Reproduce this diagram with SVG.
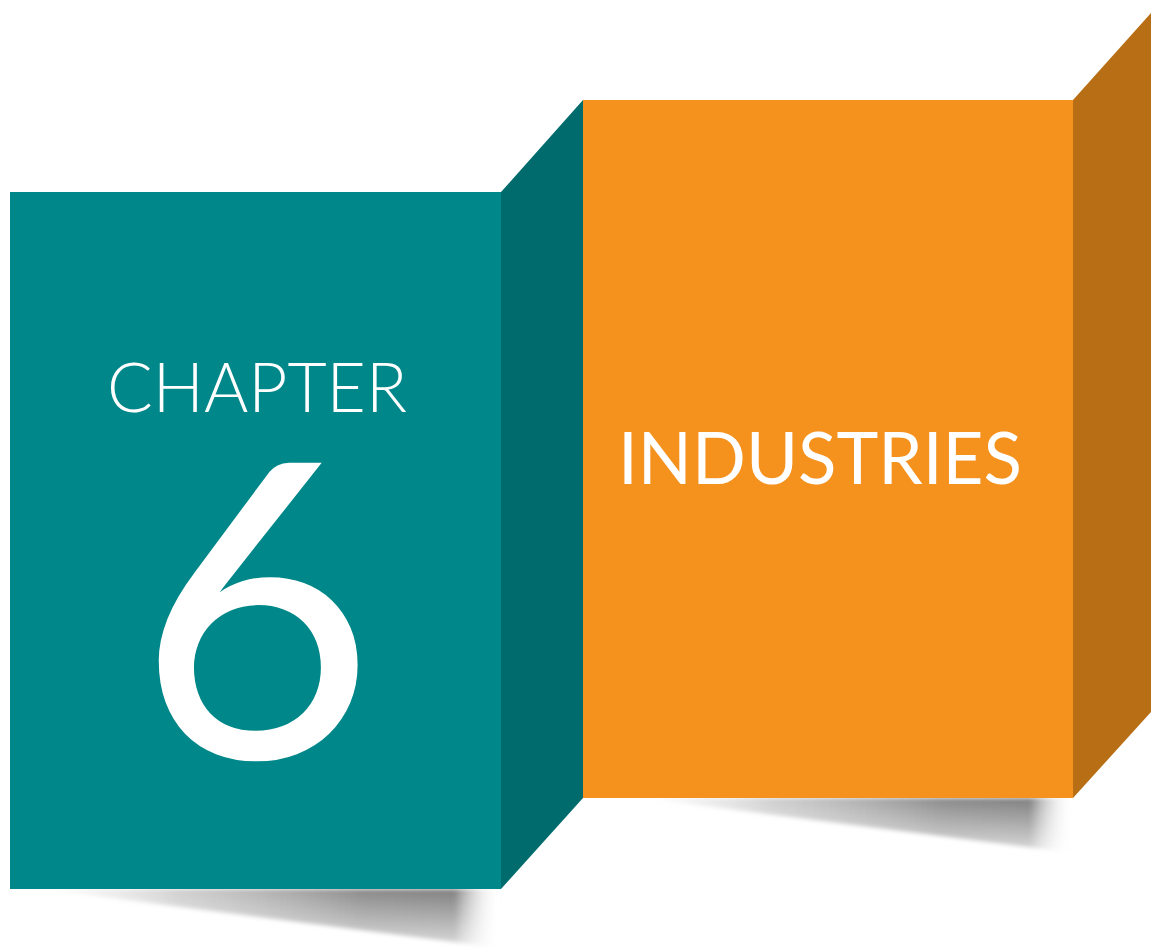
<svg xmlns="http://www.w3.org/2000/svg" width="1151" height="950" viewBox="0 0 1151 950">
  <style>
    .txt { fill: #ffffff; font-family: Lato, "Liberation Sans", sans-serif; }
    .teal-front { fill: #008789; }
    .teal-side { fill: #006B6C; }
    .orange-front { fill: #F5921E; }
    .orange-side { fill: #B76E14; }
  </style>
  <defs>
    <linearGradient id="shadowH" x1="0" y1="0" x2="1" y2="0">
      <stop offset="0" stop-color="#dddddd" stop-opacity="0"/>
      <stop offset="0.3" stop-color="#bbbbbb" stop-opacity="0.7"/>
      <stop offset="0.7" stop-color="#8a8a8a" stop-opacity="1"/>
      <stop offset="0.9" stop-color="#808080" stop-opacity="1"/>
      <stop offset="1" stop-color="#ffffff" stop-opacity="0"/>
    </linearGradient>
    <linearGradient id="fadeV" x1="0" y1="0" x2="0" y2="1">
      <stop offset="0" stop-color="#ffffff" stop-opacity="1"/>
      <stop offset="1" stop-color="#ffffff" stop-opacity="0.25"/>
    </linearGradient>
    <mask id="maskTeal" maskUnits="userSpaceOnUse" x="0" y="880" width="520" height="70">
      <rect x="0" y="889" width="520" height="60" fill="url(#fadeV)"/>
    </mask>
    <mask id="maskOrange" maskUnits="userSpaceOnUse" x="600" y="790" width="500" height="70">
      <rect x="600" y="798" width="500" height="56" fill="url(#fadeV)"/>
    </mask>
    <filter id="soft" x="-5%" y="-20%" width="110%" height="140%">
      <feGaussianBlur stdDeviation="2"/>
    </filter>
  </defs>

  <g id="shadow-teal" mask="url(#maskTeal)">
    <polygon points="40,889 500,889 500,948" fill="url(#shadowH)" filter="url(#soft)"/>
  </g>
  <g id="shadow-orange" mask="url(#maskOrange)">
    <polygon points="640,798 1073,798 1073,853" fill="url(#shadowH)" filter="url(#soft)"/>
  </g>

  <g id="panel-chapter">
    <rect class="teal-front" x="10" y="192" width="491" height="697"/>
    <polygon class="teal-side" points="501,192 583,100 583,798 501,889"/>
    <text class="txt" x="257" y="412" font-size="69" font-weight="300" text-anchor="middle" textLength="300" lengthAdjust="spacingAndGlyphs">CHAPTER</text>
    <text class="txt" x="256" y="758" font-size="412" font-weight="400" text-anchor="middle">6</text>
  </g>

  <g id="panel-industries">
    <rect class="orange-front" x="583" y="100" width="490" height="698"/>
    <polygon class="orange-side" points="1073,100 1151,13 1151,712 1073,798"/>
    <text class="txt" x="820" y="484" font-size="71" font-weight="400" text-anchor="middle" textLength="404" lengthAdjust="spacingAndGlyphs">INDUSTRIES</text>
  </g>
</svg>
